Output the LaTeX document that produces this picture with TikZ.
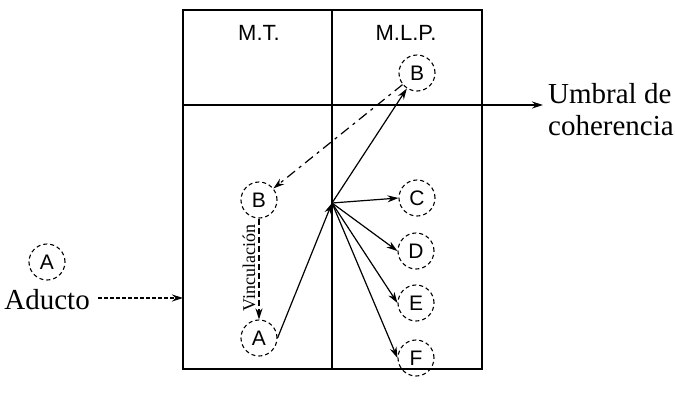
\documentclass[tikz,border=0pt]{standalone}
\usepackage{fontspec}
\setmainfont{Liberation Serif}
\newfontfamily\labelfont{Liberation Sans}
\usetikzlibrary{arrows.meta}
\begin{document}
\begin{tikzpicture}[x=1pt,y=-1pt,
  mem/.style={draw,line width=1.1pt,dash pattern=on 4pt off 3pt,circle,minimum size=36pt,inner sep=0pt,font=\labelfont\fontsize{21}{23}\selectfont},
  link/.style={-{Stealth[length=11pt,width=7pt]},line width=1.2pt},
  frame/.style={line width=1.5pt},
  head/.style={font=\labelfont\fontsize{22}{24}\selectfont},
  big/.style={font=\fontsize{29}{34}\selectfont,align=left}]
\useasboundingbox (0,0) rectangle (675,397);
% frame of the two memories
\draw[frame] (183,10) rectangle (482,369);
\draw[frame] (332,10) -- (332,369);
\coordinate (thr) at (183,105);
\coordinate (thrR) at (482,105);
\draw[frame] (thr) -- (thrR);
\node[head] (mt) at (259,33) {M.T.};
\node[head] (mlp) at (406,33) {M.L.P.};
% elements
\node[mem] (Bt) at (417,73) {B};
\node[mem] (Bl) at (259,200) {B};
\node[mem] (Al) at (259,338) {A};
\node[mem] (C) at (417,198) {C};
\node[mem] (D) at (416,251) {D};
\node[mem] (E) at (416,303) {E};
\node[mem] (F) at (416,358) {F};
\node[mem] (Ain) at (47,262) {A};
\coordinate (hub) at (332,203);
% threshold label
\node[big,anchor=west,inner sep=0pt] (umb) at (548,110) {Umbral de\\[-2pt]coherencia};
\draw[link,shorten >=5pt] (thrR) -- (umb.west |- thrR);
% input
\node[big,anchor=east,inner sep=0pt] (adu) at (90,300) {Aducto};
\coordinate (inR) at (183,298);
\draw[link,dash pattern=on 4pt off 2pt] (adu.east |- inR) ++(8,0) -- (inR);
% links
\draw[link,dash pattern=on 10pt off 5pt on 3pt off 5pt] (Bt) -- (Bl);
\draw[link,dash pattern=on 6pt off 3pt] (Bl) -- (Al);
\node[rotate=90,font=\fontsize{18}{20}\selectfont] (vinc) at (249,268) {Vinculación};
\draw[link] (Al.east) -- (hub);
\draw[link] (hub) -- (Bt);
\draw[link] (hub) -- (C.west);
\draw[link] (hub) -- (D.west);
\draw[link] (hub) -- (E.west);
\draw[link] (hub) -- (F.west);
\end{tikzpicture}
\end{document}
